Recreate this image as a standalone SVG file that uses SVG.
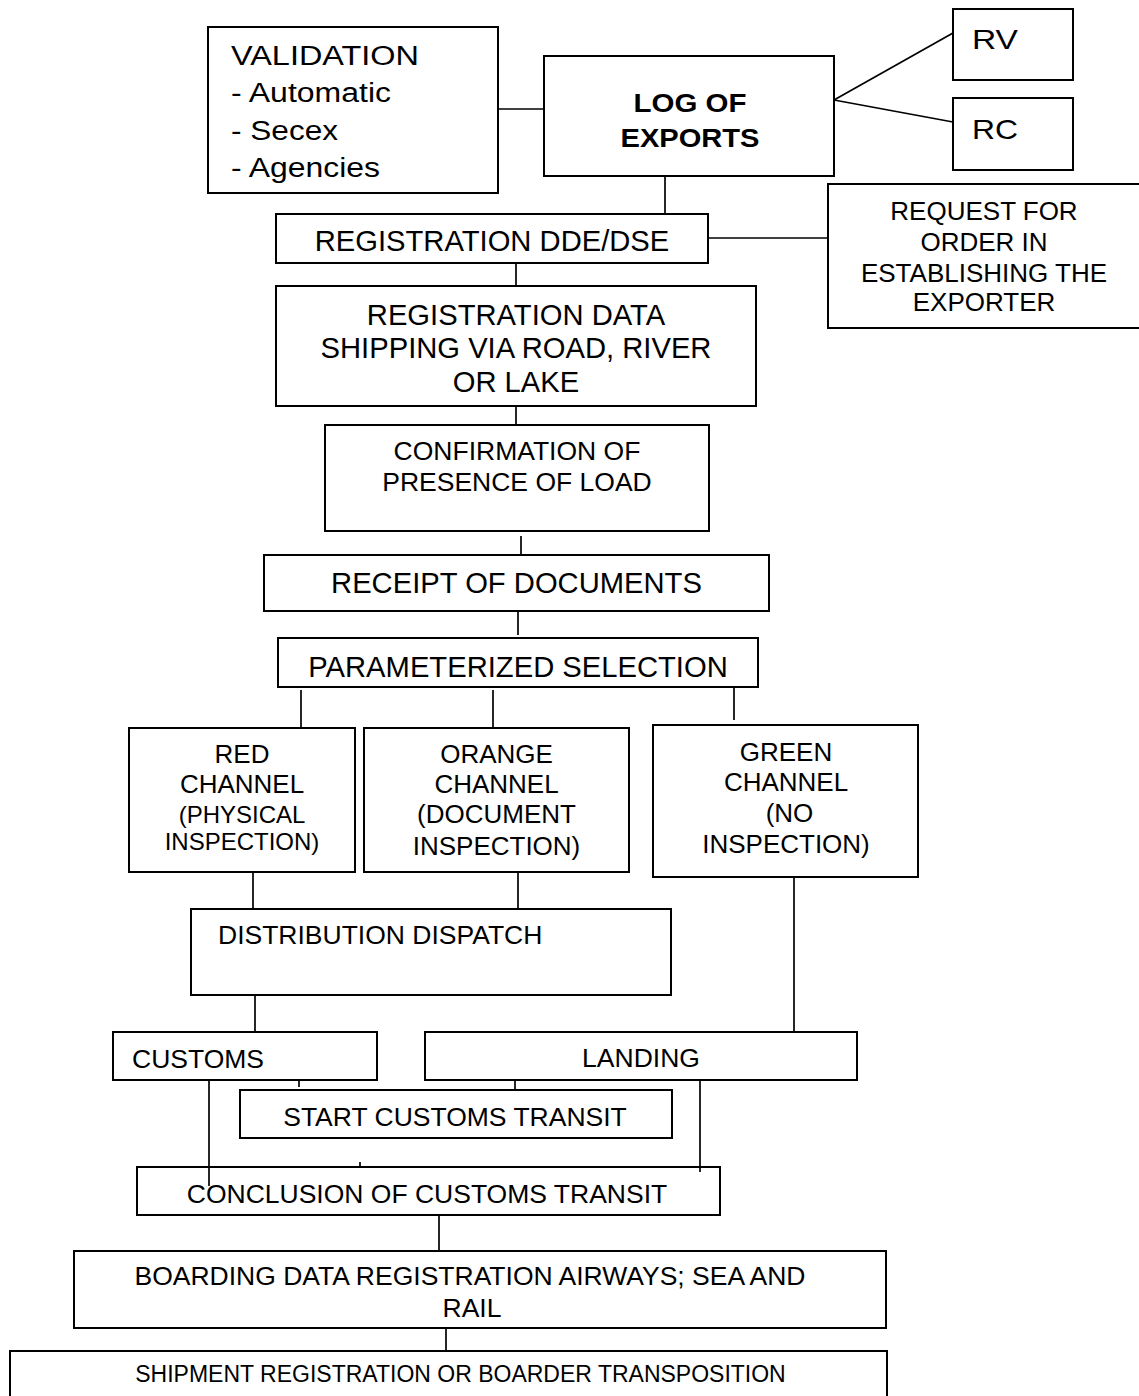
<svg xmlns="http://www.w3.org/2000/svg" width="1139" height="1396" viewBox="0 0 1139 1396">
<style>
.box{fill:#fff;stroke:#000;stroke-width:2}
.ln{stroke:#000;stroke-width:1.7;fill:none}
text{font-family:"Liberation Sans",Arial,sans-serif;fill:#000}
.c{text-anchor:middle}
.f29{font-size:29.2px}
.f26{font-size:26.5px}
.f24{font-size:24px}
</style>
<rect width="1139" height="1396" fill="#fff"/>
<g id="connectors">
<line class="ln" x1="498" y1="109" x2="549" y2="109"/>
<line class="ln" x1="834" y1="100" x2="953" y2="33"/>
<line class="ln" x1="834" y1="100" x2="953" y2="122"/>
<line class="ln" x1="665" y1="176" x2="665" y2="214"/>
<line class="ln" x1="708" y1="238" x2="828" y2="238"/>
<line class="ln" x1="516" y1="263" x2="516" y2="286"/>
<line class="ln" x1="516" y1="406" x2="516" y2="430"/>
<line class="ln" x1="521" y1="536" x2="521" y2="560"/>
<line class="ln" x1="518" y1="611" x2="518" y2="635"/>
<line class="ln" x1="301" y1="690" x2="301" y2="734"/>
<line class="ln" x1="493" y1="690" x2="493" y2="733"/>
<line class="ln" x1="734" y1="687" x2="734" y2="720"/>
<line class="ln" x1="253" y1="872" x2="253" y2="909"/>
<line class="ln" x1="518" y1="872" x2="518" y2="909"/>
<line class="ln" x1="794" y1="877" x2="794" y2="1032"/>
<line class="ln" x1="255" y1="995" x2="255" y2="1032"/>
<line class="ln" x1="299" y1="1080" x2="299" y2="1087"/>
<line class="ln" x1="515" y1="1080" x2="515" y2="1092"/>
<line class="ln" x1="360" y1="1162" x2="360" y2="1167"/>
<line class="ln" x1="439" y1="1215" x2="439" y2="1251"/>
<line class="ln" x1="446" y1="1328" x2="446" y2="1354"/>
</g>
<g id="validation"><rect class="box" x="208" y="27" width="290" height="166"/>
<text x="231" y="65" font-size="27" textLength="188" lengthAdjust="spacingAndGlyphs">VALIDATION</text>
<text x="231" y="102" font-size="27" textLength="160" lengthAdjust="spacingAndGlyphs">- Automatic</text>
<text x="231" y="140" font-size="27" textLength="107" lengthAdjust="spacingAndGlyphs">- Secex</text>
<text x="231" y="177" font-size="27" textLength="149" lengthAdjust="spacingAndGlyphs">- Agencies</text></g>
<g id="log"><rect class="box" x="544" y="56" width="290" height="120"/>
<text class="c" x="690" y="112" font-size="26" font-weight="bold" textLength="113" lengthAdjust="spacingAndGlyphs">LOG OF</text>
<text class="c" x="690" y="147" font-size="26" font-weight="bold" textLength="139" lengthAdjust="spacingAndGlyphs">EXPORTS</text></g>
<g id="rv"><rect class="box" x="953" y="9" width="120" height="71"/>
<text x="972" y="49" font-size="28" textLength="46" lengthAdjust="spacingAndGlyphs">RV</text></g>
<g id="rc"><rect class="box" x="953" y="98" width="120" height="72"/>
<text x="972" y="139" font-size="28" textLength="46" lengthAdjust="spacingAndGlyphs">RC</text></g>
<g id="reg-dde"><rect class="box" x="276" y="214" width="432" height="49"/>
<text class="c f29" x="492" y="251">REGISTRATION DDE/DSE</text></g>
<g id="request"><rect class="box" x="828" y="184" width="322" height="144"/>
<text class="c" font-size="26" x="984" y="220">REQUEST FOR</text>
<text class="c" font-size="26" x="984" y="251">ORDER IN</text>
<text class="c" font-size="26" x="984" y="282">ESTABLISHING THE</text>
<text class="c" font-size="26" x="984" y="311">EXPORTER</text></g>
<g id="reg-data"><rect class="box" x="276" y="286" width="480" height="120"/>
<text class="c f29" x="516" y="325">REGISTRATION DATA</text>
<text class="c f29" x="516" y="358">SHIPPING VIA ROAD, RIVER</text>
<text class="c f29" x="516" y="392">OR LAKE</text></g>
<g id="confirmation"><rect class="box" x="325" y="425" width="384" height="106"/>
<text class="c f26" x="517" y="460">CONFIRMATION OF</text>
<text class="c f26" x="517" y="491">PRESENCE OF LOAD</text></g>
<g id="receipt"><rect class="box" x="264" y="555" width="505" height="56"/>
<text class="c f29" x="516.5" y="593">RECEIPT OF DOCUMENTS</text></g>
<g id="param"><rect class="box" x="278" y="638" width="480" height="49"/>
<text class="c f29" x="518" y="677">PARAMETERIZED SELECTION</text></g>
<g id="red"><rect class="box" x="129" y="728" width="226" height="144"/>
<text class="c" font-size="26" x="242" y="763">RED</text>
<text class="c" font-size="26" x="242" y="793">CHANNEL</text>
<text class="c f24" x="242" y="823">(PHYSICAL</text>
<text class="c f24" x="242" y="850">INSPECTION)</text></g>
<g id="orange"><rect class="box" x="364" y="728" width="265" height="144"/>
<text class="c" font-size="26" x="496.5" y="763">ORANGE</text>
<text class="c" font-size="26" x="496.5" y="793">CHANNEL</text>
<text class="c" font-size="26" x="496.5" y="823">(DOCUMENT</text>
<text class="c" font-size="26" x="496.5" y="855">INSPECTION)</text></g>
<g id="green"><rect class="box" x="653" y="725" width="265" height="152"/>
<text class="c" font-size="26" x="786" y="761">GREEN</text>
<text class="c" font-size="26" x="786" y="791">CHANNEL</text>
<text class="c" font-size="26" x="789.5" y="822">(NO</text>
<text class="c" font-size="26" x="786" y="853">INSPECTION)</text></g>
<g id="distribution"><rect class="box" x="191" y="909" width="480" height="86"/>
<text class="f26" x="218" y="944">DISTRIBUTION DISPATCH</text></g>
<g id="customs"><rect class="box" x="113" y="1032" width="264" height="48"/>
<text class="f26" x="132" y="1068">CUSTOMS</text></g>
<g id="landing"><rect class="box" x="425" y="1032" width="432" height="48"/>
<text class="c f26" x="641" y="1067">LANDING</text></g>
<g id="start-transit"><rect class="box" x="240" y="1090" width="432" height="48"/>
<text class="c f26" x="455" y="1126">START CUSTOMS TRANSIT</text></g>
<g id="conclusion"><rect class="box" x="137" y="1167" width="583" height="48"/>
<text class="c f26" x="427" y="1203">CONCLUSION OF CUSTOMS TRANSIT</text></g>
<g id="connectors-over">
<line class="ln" x1="209" y1="1080" x2="209" y2="1186"/>
<line class="ln" x1="700" y1="1080" x2="700" y2="1172"/>
</g>
<g id="boarding"><rect class="box" x="74" y="1251" width="812" height="77"/>
<text class="c f26" x="470" y="1285">BOARDING DATA REGISTRATION AIRWAYS; SEA AND</text>
<text class="c f26" x="472" y="1317">RAIL</text></g>
<g id="shipment"><rect class="box" x="10" y="1351" width="877" height="60"/>
<text class="c" font-size="23" x="460.5" y="1382">SHIPMENT REGISTRATION OR BOARDER TRANSPOSITION</text></g>
</svg>
